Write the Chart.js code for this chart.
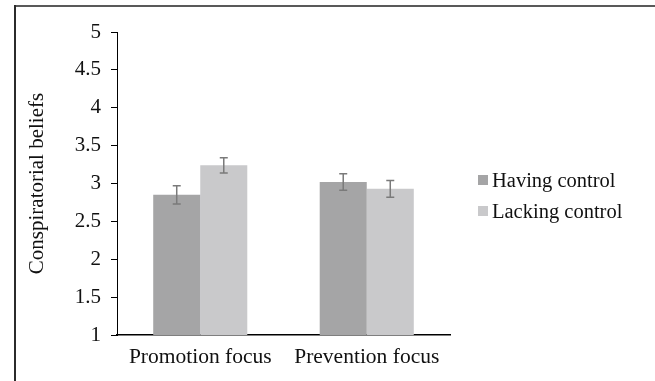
<!DOCTYPE html>
<html>
<head>
<meta charset="utf-8">
<script src="https://cdn.jsdelivr.net/npm/chart.js@4/dist/chart.umd.min.js"></script>
<style>
  html, body { margin: 0; padding: 0; background: #ffffff; }
  canvas { display: block; }
</style>
</head>
<body>
<canvas id="chart" width="655" height="381"></canvas>
<script>
// Mean conspiratorial beliefs by regulatory focus and sense of control
const categories = ['Promotion focus', 'Prevention focus'];
const seriesNames = ['Having control', 'Lacking control'];
const havingControl = [2.85, 3.02];
const lackingControl = [3.24, 2.93];
const havingError = [0.12, 0.11];
const lackingError = [0.10, 0.11];
const yTickMin = 1;
const yTickMax = 5;
const yTickStep = 0.5;
const yAxisTitle = 'Conspiratorial beliefs';

const serif = '"Liberation Serif", "Times New Roman", Times, serif';
const legendFont = '20.5px "Liberation Serif", "Times New Roman", serif';
const textColor = '#111111';
const barColors = ['#a5a5a6', '#c9c9cb'];

// Frame lines along the top and left edges
const framePlugin = {
  id: 'frame',
  beforeDraw(chart) {
    const ctx = chart.ctx;
    ctx.save();
    ctx.fillStyle = '#ffffff';
    ctx.fillRect(0, 0, chart.width, chart.height);
    ctx.fillStyle = '#595959';
    ctx.fillRect(14, 5, chart.width - 14, 2);
    ctx.fillStyle = '#2b2b2b';
    ctx.fillRect(14, 5, 2, chart.height - 5);
    ctx.restore();
  }
};

// Standard-error whiskers drawn on top of each bar
const errorBarPlugin = {
  id: 'errorBars',
  afterDatasetsDraw(chart, args, opts) {
    const ctx = chart.ctx;
    const y = chart.scales.y;
    ctx.save();
    ctx.strokeStyle = opts.color;
    ctx.lineWidth = opts.width;
    chart.data.datasets.forEach((ds, di) => {
      const meta = chart.getDatasetMeta(di);
      meta.data.forEach((bar, i) => {
        const v = ds.data[i];
        const e = ds.errors[i];
        const yTop = y.getPixelForValue(v + e);
        const yBot = y.getPixelForValue(v - e);
        const x = bar.x;
        const c = opts.cap / 2;
        ctx.beginPath();
        ctx.moveTo(x, yTop); ctx.lineTo(x, yBot);
        ctx.moveTo(x - c, yTop); ctx.lineTo(x + c, yTop);
        ctx.moveTo(x - c, yBot); ctx.lineTo(x + c, yBot);
        ctx.stroke();
      });
    });
    ctx.restore();
  }
};

// Legend to the right of the plot
const sideLegendPlugin = {
  id: 'sideLegend',
  afterDraw(chart, args, opts) {
    const ctx = chart.ctx;
    ctx.save();
    ctx.font = legendFont;
    ctx.textBaseline = 'alphabetic';
    ctx.textAlign = 'left';
    chart.data.datasets.forEach((ds, i) => {
      const top = opts.y + i * opts.spacing;
      ctx.fillStyle = ds.backgroundColor;
      ctx.fillRect(opts.x, top, opts.box, opts.box);
      ctx.fillStyle = textColor;
      ctx.fillText(ds.label, opts.x + opts.box + 4, top + opts.box / 2 + 6.5);
    });
    ctx.restore();
  }
};

new Chart(document.getElementById('chart'), {
  type: 'bar',
  data: {
    labels: categories,
    datasets: [
      { label: seriesNames[0], data: havingControl, errors: havingError, backgroundColor: barColors[0] },
      { label: seriesNames[1], data: lackingControl, errors: lackingError, backgroundColor: barColors[1] }
    ]
  },
  options: {
    responsive: false,
    animation: false,
    devicePixelRatio: 1,
    layout: { padding: { top: 32, right: 205, left: 0, bottom: 0 } },
    datasets: {
      bar: { categoryPercentage: 0.565, barPercentage: 1.0, borderWidth: 0 }
    },
    plugins: {
      legend: { display: false },
      tooltip: { enabled: false },
      errorBars: { color: '#7a7a7a', width: 1.5, cap: 8 },
      sideLegend: { x: 478, y: 175, box: 10, spacing: 31 }
    },
    scales: {
      x: {
        grid: { display: false, drawTicks: false },
        border: { display: true, color: '#000000', width: 1.5 },
        ticks: {
          color: textColor,
          padding: 9,
          font: { family: serif, size: 21.5 }
        },
        afterFit(scale) { scale.height = 46; }
      },
      y: {
        min: yTickMin,
        max: yTickMax,
        grid: { display: true, drawOnChartArea: false, drawTicks: true, tickLength: 6, color: '#000000', lineWidth: 1 },
        border: { display: true, color: '#000000', width: 1 },
        ticks: {
          stepSize: yTickStep,
          color: textColor,
          padding: 10,
          font: { family: serif, size: 21 },
          callback: (v) => String(v)
        },
        title: {
          display: true,
          text: yAxisTitle,
          color: textColor,
          font: { family: serif, size: 21, lineHeight: 1.2 },
          padding: { top: 25, bottom: 0 }
        },
        afterFit(scale) { scale.width = 117; }
      }
    }
  },
  plugins: [framePlugin, errorBarPlugin, sideLegendPlugin]
});
</script>
</body>
</html>
